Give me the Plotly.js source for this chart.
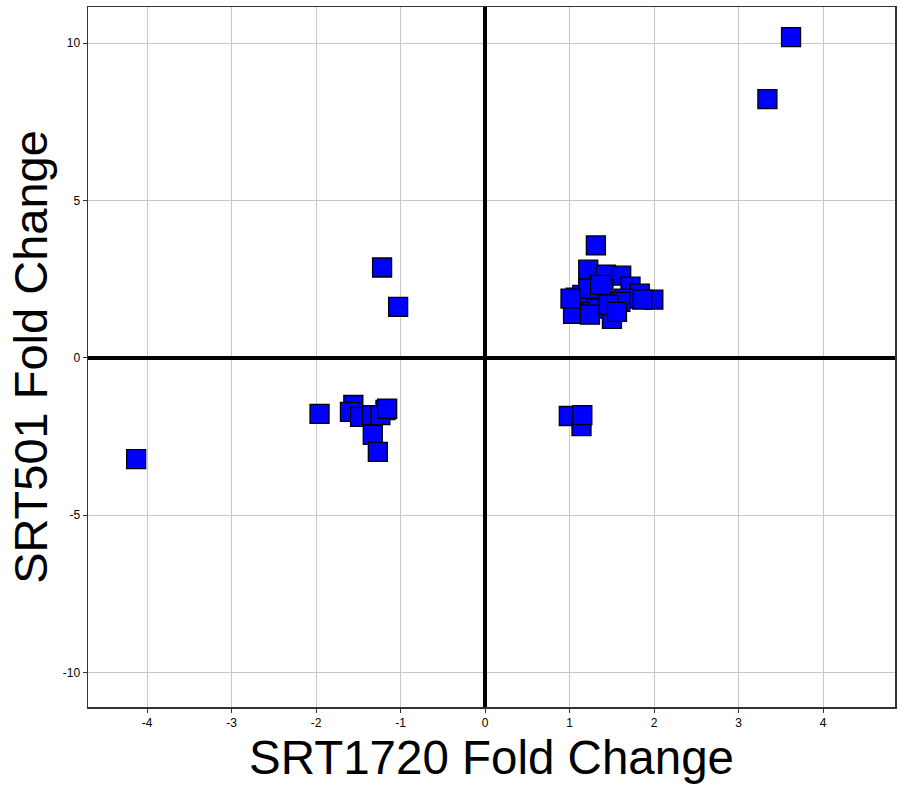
<!DOCTYPE html>
<html><head><meta charset="utf-8">
<script src="https://cdn.plot.ly/plotly-3.0.1.min.js"></script>
<style>html,body{margin:0;padding:0;background:#fff}#chart{width:901px;height:786px}</style>
</head><body><div id="chart"></div>
<script>
// SRT1720 fold change (x) and SRT501 fold change (y)
const srt1720 = [3.62, 3.34, -1.22, -1.03, -4.13, -1.96,
  -1.56, -1.60, -1.48, -1.34, -1.18, -1.24, -1.33, -1.27, -1.16,
  0.99, 1.14, 1.15,
  1.31, 1.22, 1.43, 1.61, 1.72, 1.83, 1.99, 1.86, 1.64, 1.07, 1.15, 1.40,
  1.32, 1.12, 1.04, 1.24, 1.50, 1.60, 1.22, 1.46, 1.01, 1.36, 1.56];
const srt501 = [10.19, 8.22, 2.87, 1.62, -3.22, -1.78,
  -1.50, -1.72, -1.88, -1.82, -1.66, -1.82, -2.45, -2.99, -1.62,
  -1.85, -2.17, -1.82,
  3.57, 2.80, 2.64, 2.61, 2.26, 2.04, 1.85, 1.85, 1.88, 1.91, 2.00, 2.17,
  1.56, 1.46, 1.40, 1.37, 1.24, 1.78, 2.20, 1.69, 1.88, 2.32, 1.46];
const xTickVals = [-4, -3, -2, -1, 0, 1, 2, 3, 4];
const xTickText = ["-4", "-3", "-2", "-1", "0", "1", "2", "3", "4"];
const yTickVals = [-10, -5, 0, 5, 10];
const yTickText = ["-10", "-5", "0", "5", "10"];
const xTitle = "SRT1720 Fold Change";
const yTitle = "SRT501 Fold Change";

const trace = {
  x: srt1720, y: srt501, type: 'scatter', mode: 'markers',
  marker: {symbol: 'square', size: 19, color: '#0000ff', line: {color: '#000000', width: 1.3}},
  hoverinfo: 'x+y'
};
const axisCommon = {
  showgrid: true, gridcolor: '#c8c8c8', gridwidth: 1,
  zeroline: true, zerolinecolor: '#000000', zerolinewidth: 4,
  showline: true, linecolor: '#333333', linewidth: 1.5, mirror: true,
  ticks: 'outside', ticklen: 4, tickcolor: '#333333', tickwidth: 1,
  tickfont: {family: 'Liberation Sans, Arial, sans-serif', size: 12, color: '#000'},
  fixedrange: true
};
const layout = {
  width: 901, height: 786,
  margin: {l: 88, r: 6, t: 7, b: 79},
  paper_bgcolor: '#ffffff', plot_bgcolor: '#ffffff',
  showlegend: false,
  xaxis: Object.assign({}, axisCommon, {
    range: [-4.7, 4.85], tickmode: 'array', tickvals: xTickVals, ticktext: xTickText,
    title: {text: xTitle, font: {family: 'Liberation Sans, Arial, sans-serif', size: 47.5, color: '#000'}, standoff: 12}
  }),
  yaxis: Object.assign({}, axisCommon, {
    range: [-11.1, 11.15], tickmode: 'array', tickvals: yTickVals, ticktext: yTickText,
    title: {text: yTitle, font: {family: 'Liberation Sans, Arial, sans-serif', size: 47, color: '#000'}, standoff: 0}
  })
};
Plotly.newPlot('chart', [trace], layout, {displayModeBar: false, staticPlot: true});
</script></body></html>
